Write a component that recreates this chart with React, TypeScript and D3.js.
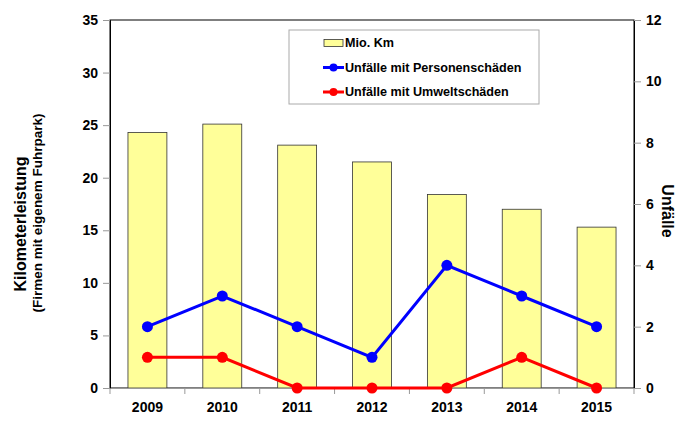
import React, { useEffect, useRef } from "react";
import * as d3 from "d3";

const years = ["2009", "2010", "2011", "2012", "2013", "2014", "2015"];
const mioKm = [24.3, 25.1, 23.1, 21.5, 18.4, 17.0, 15.3];
const personenSchaeden = [2, 3, 2, 1, 4, 3, 2];
const umweltSchaeden = [1, 1, 0, 0, 0, 1, 0];
const leftTicks = [0, 5, 10, 15, 20, 25, 30, 35];
const rightTicks = [0, 2, 4, 6, 8, 10, 12];

const width = 680;
const height = 444;
const font = "'Liberation Sans', Arial, sans-serif";

const App: React.FC = () => {
  const svgRef = useRef<SVGSVGElement>(null);

  useEffect(() => {
    if (!svgRef.current) return;
    const svg = d3.select(svgRef.current);
    svg.selectAll("*").remove();

    const left = 110;
    const right = 634;
    const top = 20;
    const bottom = 388;

    const x = d3.scaleBand<string>().domain(years).range([left, right]).paddingInner(0).paddingOuter(0);
    const yL = d3.scaleLinear().domain([0, 35]).range([bottom, top]);
    const yR = d3.scaleLinear().domain([0, 12]).range([bottom, top]);

    // plot frame
    svg
      .append("rect")
      .attr("x", left)
      .attr("y", top)
      .attr("width", right - left)
      .attr("height", bottom - top)
      .attr("fill", "white")
      .attr("stroke", "black")
      .attr("stroke-width", 1);

    // bars
    const bw = x.bandwidth() * 0.52;
    svg
      .append("g")
      .selectAll("rect")
      .data(years)
      .join("rect")
      .attr("x", (d) => x(d)! + (x.bandwidth() - bw) / 2)
      .attr("y", (_, i) => yL(mioKm[i]))
      .attr("width", bw)
      .attr("height", (_, i) => bottom - yL(mioKm[i]))
      .attr("fill", "#ffff99")
      .attr("stroke", "#333")
      .attr("stroke-width", 0.8);

    // left axis
    const gL = svg
      .append("g")
      .attr("transform", `translate(${left},0)`)
      .call(d3.axisLeft(yL).tickValues(leftTicks).tickSize(7).tickPadding(5));
    gL.select(".domain").attr("stroke", "black");
    gL.selectAll(".tick line").attr("stroke", "#999");
    gL.selectAll("text")
      .attr("font-family", font)
      .attr("font-size", 14)
      .attr("font-weight", "bold")
      .attr("fill", "black");

    // right axis
    const gR = svg
      .append("g")
      .attr("transform", `translate(${right},0)`)
      .call(d3.axisRight(yR).tickValues(rightTicks).tickSize(7).tickPadding(5));
    gR.select(".domain").attr("stroke", "black");
    gR.selectAll(".tick line").attr("stroke", "#999");
    gR.selectAll("text")
      .attr("font-family", font)
      .attr("font-size", 14)
      .attr("font-weight", "bold")
      .attr("fill", "black");

    // bottom axis
    const gB = svg
      .append("g")
      .attr("transform", `translate(0,${bottom})`)
      .call(d3.axisBottom(x).tickSize(0).tickPadding(14));
    gB.select(".domain").attr("stroke", "#999");
    gB.selectAll("text")
      .attr("font-family", font)
      .attr("font-size", 14)
      .attr("font-weight", "bold")
      .attr("fill", "black");
    const bounds = years.map((d) => x(d)!).concat([right]);
    gB.selectAll("line.sep")
      .data(bounds)
      .join("line")
      .attr("class", "sep")
      .attr("x1", (d) => d)
      .attr("x2", (d) => d)
      .attr("y1", 0)
      .attr("y2", 6)
      .attr("stroke", "#999");

    const cx = (d: string) => x(d)! + x.bandwidth() / 2;

    const drawLine = (vals: number[], color: string) => {
      const pts = years.map((d, i) => [cx(d), yR(vals[i])] as [number, number]);
      svg
        .append("path")
        .datum(pts)
        .attr("fill", "none")
        .attr("stroke", color)
        .attr("stroke-width", 3)
        .attr("d", d3.line());
      svg
        .append("g")
        .selectAll("circle")
        .data(pts)
        .join("circle")
        .attr("cx", (d) => d[0])
        .attr("cy", (d) => d[1])
        .attr("r", 5.5)
        .attr("fill", color);
    };
    drawLine(personenSchaeden, "#0000ff");
    drawLine(umweltSchaeden, "#ff0000");

    // legend
    const lg = svg.append("g");
    lg.append("rect")
      .attr("x", 289)
      .attr("y", 30)
      .attr("width", 250)
      .attr("height", 74)
      .attr("fill", "white")
      .attr("stroke", "#aaa")
      .attr("stroke-width", 1);
    const items = [
      { label: "Mio. Km", type: "bar", color: "#ffff99" },
      { label: "Unfälle mit Personenschäden", type: "line", color: "#0000ff" },
      { label: "Unfälle mit Umweltschäden", type: "line", color: "#ff0000" },
    ];
    items.forEach((it, i) => {
      const yy = 43 + i * 24.5;
      if (it.type === "bar") {
        lg.append("rect")
          .attr("x", 324)
          .attr("y", yy - 3.5)
          .attr("width", 19)
          .attr("height", 7)
          .attr("fill", it.color)
          .attr("stroke", "#333")
          .attr("stroke-width", 0.8);
      } else {
        lg.append("line")
          .attr("x1", 323)
          .attr("x2", 344)
          .attr("y1", yy)
          .attr("y2", yy)
          .attr("stroke", it.color)
          .attr("stroke-width", 3);
        lg.append("circle").attr("cx", 333.5).attr("cy", yy).attr("r", 4).attr("fill", it.color);
      }
      lg.append("text")
        .attr("x", 345)
        .attr("y", yy)
        .attr("dy", "0.35em")
        .attr("font-family", font)
        .attr("font-size", 12.6)
        .attr("font-weight", "bold")
        .text(it.label);
    });

    // axis titles
    svg
      .append("text")
      .attr("transform", `translate(26,224) rotate(-90)`)
      .attr("text-anchor", "middle")
      .attr("font-family", font)
      .attr("font-size", 16)
      .attr("font-weight", "bold")
      .text("Kilometerleistung");
    svg
      .append("text")
      .attr("transform", `translate(42,213) rotate(-90)`)
      .attr("text-anchor", "middle")
      .attr("font-family", font)
      .attr("font-size", 13.5)
      .attr("font-weight", "bold")
      .text("(Firmen mit eigenem Fuhrpark)");
    svg
      .append("text")
      .attr("transform", `translate(662,211) rotate(90)`)
      .attr("text-anchor", "middle")
      .attr("font-family", font)
      .attr("font-size", 16)
      .attr("font-weight", "bold")
      .text("Unfälle");
  }, []);

  return (
    <svg
      ref={svgRef}
      width={width}
      height={height}
      style={{ position: "absolute", left: 0, top: 0, background: "white" }}
    />
  );
};

export default App;
